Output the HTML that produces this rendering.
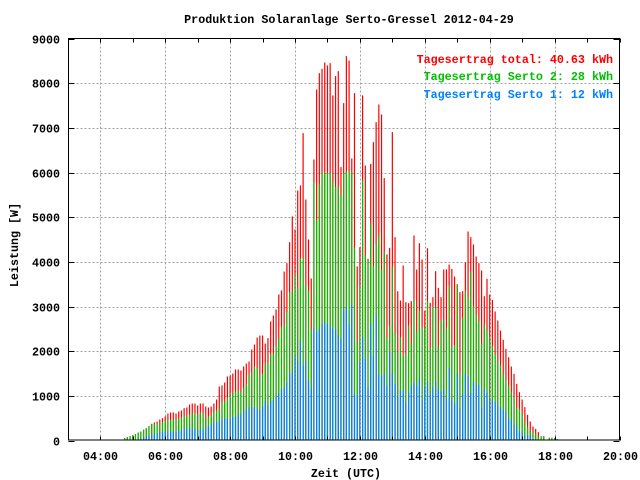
<!DOCTYPE html>
<html><head><meta charset="utf-8"><style>
html,body{margin:0;padding:0;background:#fff;}
svg{display:block;}
text{font-family:"Liberation Mono","DejaVu Sans Mono",monospace;font-weight:bold;font-size:11.7px;}
</style></head><body>
<svg id="chart" width="640" height="480" viewBox="0 0 640 480" xmlns="http://www.w3.org/2000/svg">
<rect x="0" y="0" width="640" height="480" fill="#fff"/>
<text x="349" y="23" text-anchor="middle">Produktion Solaranlage Serto-Gressel 2012-04-29</text>
<g id="grid"></g>
<g id="bars"></g>
<g id="axes"></g>
<text x="18" y="245" text-anchor="middle" transform="rotate(-90 18 245)">Leistung [W]</text>
<text x="346" y="477" text-anchor="middle">Zeit (UTC)</text>
<g>
<text x="613" y="63" text-anchor="end" fill="#ff0000">Tagesertrag total: 40.63 kWh</text>
<text x="613" y="80" text-anchor="end" fill="#00c000">Tagesertrag Serto 2: 28 kWh</text>
<text x="613" y="98" text-anchor="end" fill="#0080ff">Tagesertrag Serto 1: 12 kWh</text>
</g>
</svg>
<script>
const startMinute = 280; // 04:40
const stepMinutes = 5;
const yTicks = [0,1000,2000,3000,4000,5000,6000,7000,8000,9000];
const xTickHours = [4,6,8,10,12,14,16,18,20];
const xTickLabels = ["04:00","06:00","08:00","10:00","12:00","14:00","16:00","18:00","20:00"];
const totalW = [22,52,75,97,119,142,179,201,246,276,321,373,403,425,470,500,537,605,627,627,605,649,671,724,739,806,828,828,783,828,828,761,739,761,828,918,1209,1231,1298,1432,1455,1499,1589,1589,1567,1656,1723,1768,2037,2149,2305,2350,2350,2171,
2291,2665,2799,2933,3269,3359,3784,3971,4441,5016,4725,5598,5710,6881,5396,4501,3627,6292,7859,8225,8322,8463,8396,8449,7725,8157,8269,6120,7553,8605,8508,6314,7777,3896,4329,7725,6157,4068,6195,6680,7128,7523,7299,5874,4165,4314,6904,4553,
3343,3134,3918,3097,3074,3119,4589,3828,4418,4052,2910,4306,3082,3209,3791,3418,3209,3828,3828,3940,3843,3671,3500,3321,3343,3992,4679,4552,4388,4119,3970,3806,3231,3619,3268,3149,2888,2686,2462,2254,2052,1865,1656,1492,1268,1082,918,746,574,425,313,261,187,97,97,0,60,60,50,30];
const serto2W = [22,52,75,97,119,142,179,201,246,276,321,373,358,373,388,410,448,462,462,470,462,485,515,537,560,574,604,604,589,604,604,507,537,567,627,671,724,858,873,955,1007,1082,1089,1119,1082,1179,1268,1492,1507,1656,1626,1470,1492,1716,
1732,1941,1941,2127,2299,2538,2575,2874,3321,3344,3732,3418,4068,4090,3471,3359,2486,5784,4926,5732,5993,5993,5993,5993,5792,5672,5672,5486,5993,6023,6023,5993,4314,2202,3456,5836,4142,4030,4866,3896,4404,4605,3821,4217,2299,2575,3896,2403,
1977,2313,1903,1940,2574,2164,3149,2440,2910,2537,2515,3112,2067,3000,2970,2089,2686,2709,2500,3455,2112,2127,3492,1492,2746,3343,3194,3769,3000,2821,2672,2164,2597,2463,2313,2112,1940,1813,1679,1492,1358,1231,1082,970,724,709,597,410,298,224,172,149,90,97,97,0,60,60,50,30];
const serto1W = [0,0,0,0,0,0,22,45,67,90,112,134,149,164,179,186,194,201,201,201,201,224,239,261,276,276,254,276,239,239,254,291,321,365,410,410,448,477,500,500,500,522,537,567,582,679,679,746,746,739,716,679,776,880,
784,874,896,986,1045,1157,1180,1306,1493,1530,1903,1776,2239,1679,1776,1344,1157,2538,2426,2500,2612,2650,2612,2538,2523,2500,2351,2277,2911,2986,2612,3023,1045,1008,1754,2314,1829,1194,2612,1889,2799,1493,1456,1493,1232,1978,1493,1269,
985,1119,1142,858,1082,1231,1306,1231,1380,910,1194,1321,1044,1194,1321,1156,1104,1142,948,1619,910,835,1492,724,1044,1492,1440,1059,1321,1231,1246,724,1156,1067,918,910,858,798,746,686,649,500,462,351,336,201,201,112,112,112,37,0,0,0,0,0,0,0,0,0];

const NS = "http://www.w3.org/2000/svg";
const L = 68.5, R = 619.5, T = 38.5, B = 440.5;
function xScale(hours){ return 100.3 + (hours - 4) * 32.45; }
function yScale(v){ return B - (v / 9000) * (B - T); }
function mk(tag, attrs, parent){ const e = document.createElementNS(NS, tag); for (const k in attrs) e.setAttribute(k, attrs[k]); parent.appendChild(e); return e; }
const grid = document.getElementById('grid');
const bars = document.getElementById('bars');
const axes = document.getElementById('axes');

yTicks.forEach((v, i) => {
  const y = Math.round(yScale(v)) + 0.5;
  if (v > 0 && v < 9000) {
    const g = mk('line', {x1:L, x2:R, y1:y, y2:y, stroke:'#a0a0a0', 'stroke-dasharray':'2,2'}, grid);
    
    
  }
  const t = mk('line', {x1:L, x2:L+6, y1:y, y2:y, stroke:'#000'}, axes);
  
  
  const t2 = mk('line', {x1:R-6, x2:R, y1:y, y2:y, stroke:'#000'}, axes);
  
  
  const lb = mk('text', {x:60, y:y+4, 'text-anchor':'end'}, axes);
  lb.textContent = String(v);
  
  
});
for (let h = 4; h <= 20; h++) {
  const x = Math.round(xScale(h)) + 0.5;
  const t = mk('line', {x1:x, x2:x, y1:B-4, y2:B, stroke:'#000'}, axes);
  
  
  const t2 = mk('line', {x1:x, x2:x, y1:T, y2:T+4, stroke:'#000'}, axes);
  
  
}
xTickHours.forEach((h, i) => {
  const x = Math.round(xScale(h)) + 0.5;
  if (h < 20) {
    const g = mk('line', {x1:x, x2:x, y1:T, y2:B, stroke:'#a0a0a0', 'stroke-dasharray':'2,2'}, grid);
    
    
  }
  const lb = mk('text', {x:x, y:460, 'text-anchor':'middle'}, axes);
  lb.textContent = xTickLabels[i];
  
  
});
const series = [[totalW,'#ff0000','bar-total'],[serto2W,'#00c000','bar-serto-2'],[serto1W,'#0080ff','bar-serto-1']];
series.forEach(([arr, col, name]) => {
  arr.forEach((v, i) => {
    if (!(v > 0)) return;
    const h = (startMinute + i * stepMinutes) / 60;
    const x = xScale(h);
    const y = yScale(v);
    const r = mk('rect', {x:(x-0.6).toFixed(2), y:y.toFixed(2), width:1.2, height:(B-0.5-y).toFixed(2), fill:col}, bars);
    
    
  });
});
const frame = mk('rect', {x:L, y:T, width:R-L, height:B-T-0.5, fill:'none', stroke:'#000', 'stroke-width':1}, axes);


</script>
</body></html>
